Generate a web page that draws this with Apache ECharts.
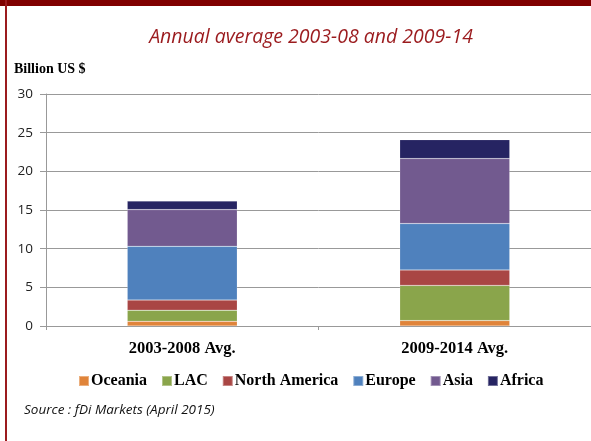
<!DOCTYPE html>
<html><head><meta charset="utf-8">
<script src="https://cdn.jsdelivr.net/npm/echarts@6/dist/echarts.min.js"></script>
<style>html,body{margin:0;padding:0;background:#fff}#c{width:591px;height:441px}</style>
</head><body><div id="c"></div>
<script>
const categories = ['2003-2008 Avg.', '2009-2014 Avg.'];
const seriesNames = ['Oceania', 'LAC', 'North America', 'Europe', 'Asia', 'Africa'];
const oceania = [0.6, 0.7];
const lac = [1.45, 4.55];
const northAmerica = [1.3, 2.0];
const europe = [6.95, 6.0];
const asia = [4.75, 8.4];
const africa = [1.1, 2.45];
const yTicks = [0, 5, 10, 15, 20, 25, 30];
const colors = ['#E0843A', '#8AA54B', '#A94644', '#4F81BD', '#725A8F', '#262462'];
const values = [oceania, lac, northAmerica, europe, asia, africa];

const chart = echarts.init(document.getElementById('c'), null, {renderer: 'canvas'});
chart.setOption({
  animation: false,
  color: colors,
  title: {
    text: 'Annual average 2003-08 and 2009-14',
    left: 306, top: 22, textAlign: 'center',
    textStyle: {fontFamily: 'Open Sans', fontStyle: 'italic', fontWeight: 'normal', fontSize: 19.5, color: '#9B1B1E'}
  },
  graphic: [
    {type: 'rect', shape: {x: 0, y: 0, width: 591, height: 6}, style: {fill: '#800000'}},
    {type: 'rect', shape: {x: 5, y: 0, width: 2, height: 441}, style: {fill: '#9B1B1E'}},
    {type: 'text', left: 14, top: 62, style: {text: 'Billion US $', font: 'bold 14px "Liberation Serif"', fill: '#000'}},
    {type: 'text', left: 24, top: 403, style: {text: 'Source : fDi Markets (April 2015)', font: 'italic 13.5px "Open Sans"', fill: '#111'}}
  ],
  legend: {
    data: seriesNames, top: 368, left: 73,
    itemWidth: 10, itemHeight: 10, itemGap: 14, icon: 'rect',
    textStyle: {fontFamily: 'Liberation Serif', fontWeight: 'bold', fontSize: 16, color: '#000', padding: [0, 0, 0, -3]}
  },
  grid: {left: 46, right: -1, top: 94, bottom: 115, containLabel: false},
  xAxis: {
    type: 'category', data: categories,
    axisLine: {lineStyle: {color: '#999'}},
    axisTick: {show: true, length: 4, lineStyle: {color: '#999'}},
    axisLabel: {fontFamily: 'Liberation Serif', fontWeight: 'bold', fontSize: 16.5, color: '#000', margin: 14}
  },
  yAxis: {
    type: 'value', min: 0, max: 30, interval: 5,
    axisLine: {show: true, lineStyle: {color: '#999'}},
    axisTick: {show: true, length: 6, lineStyle: {color: '#999'}},
    splitLine: {lineStyle: {color: '#999'}},
    axisLabel: {fontFamily: 'Open Sans', fontSize: 13.5, color: '#222', margin: 13,
      formatter: v => yTicks.includes(v) ? String(v) : ''}
  },
  series: seriesNames.map((n, i) => ({
    name: n, type: 'bar', stack: 'total', data: values[i], barWidth: 110,
    itemStyle: {borderColor: 'rgba(255,255,255,0.35)', borderWidth: 0.5}
  }))
});
</script></body></html>
